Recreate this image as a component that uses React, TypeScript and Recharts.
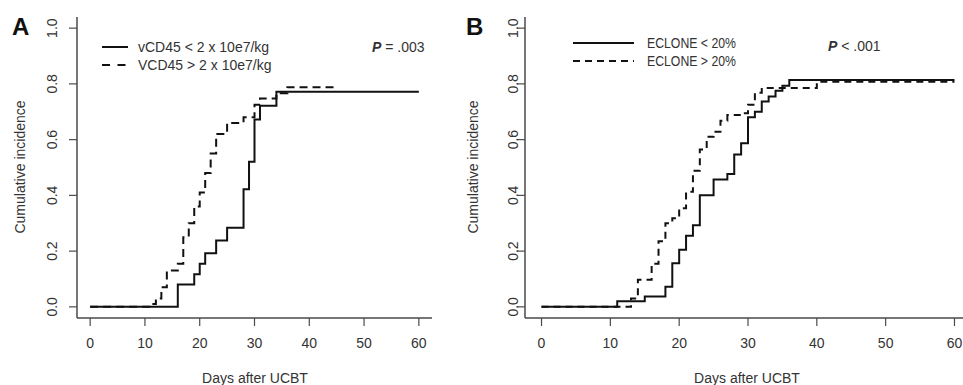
import React from "react";
import { LineChart, Line, XAxis, YAxis } from "recharts";

// Panel A: vCD45 dose groups
const aLowDays = [0, 16, 19, 20, 21, 23, 25, 28, 29, 30, 31, 34, 60];
const aLowInc = [0, 0.08, 0.117, 0.155, 0.192, 0.238, 0.284, 0.422, 0.521, 0.672, 0.722, 0.772, 0.772];
const aHighDays = [0, 11, 12, 13, 14, 16, 17, 18, 19, 20, 21, 22, 23, 25, 28, 30, 31, 34, 36, 45];
const aHighInc = [0, 0.01, 0.03, 0.07, 0.13, 0.155, 0.25, 0.3, 0.36, 0.41, 0.48, 0.55, 0.62, 0.66, 0.68, 0.725, 0.748, 0.766, 0.788, 0.788];

// Panel B: ECLONE groups
const bLowDays = [0, 11, 15, 18, 19, 20, 21, 22, 23, 25, 27, 28, 29, 30, 31, 32, 33, 34, 35, 36, 60];
const bLowInc = [0, 0.02, 0.037, 0.072, 0.156, 0.205, 0.255, 0.293, 0.4, 0.457, 0.477, 0.547, 0.587, 0.68, 0.7, 0.737, 0.755, 0.775, 0.793, 0.814, 0.814];
const bHighDays = [0, 13, 14, 16, 17, 18, 19, 20, 21, 22, 23, 24, 25, 26, 27, 29, 30, 31, 32, 40, 60];
const bHighInc = [0, 0.03, 0.097, 0.155, 0.235, 0.3, 0.318, 0.354, 0.413, 0.488, 0.565, 0.61, 0.628, 0.668, 0.688, 0.695, 0.725, 0.768, 0.785, 0.808, 0.808];

const xTicks = [0, 10, 20, 30, 40, 50, 60];
const yTicks = [0, 0.2, 0.4, 0.6, 0.8, 1.0];

const legendA = ["vCD45 < 2 x 10e7/kg", "VCD45 > 2 x 10e7/kg"];
const legendB = ["ECLONE < 20%", "ECLONE > 20%"];

const zip = (days: number[], inc: number[]) => days.map((d, i) => ({ d, v: inc[i] }));

const FONT = "'Liberation Sans', Arial, sans-serif";
const AXIS = "#4a4a4a";
const TXT = "#333";

function Panel({ left, width, rightMargin, labelX, low, high, dash }: any) {
  const YTick = (p: any) => (
    <text
      x={labelX}
      y={p.y}
      textAnchor="middle"
      transform={`rotate(-90, ${labelX}, ${p.y})`}
      fontSize={14}
      fontFamily={FONT}
      fill={TXT}
    >
      {Number(p.payload.value).toFixed(1)}
    </text>
  );
  const XTick = (p: any) => (
    <text x={p.x} y={348} textAnchor="middle" fontSize={14} fontFamily={FONT} fill={TXT}>
      {p.payload.value}
    </text>
  );
  return (
    <div style={{ position: "absolute", left, top: 0 }}>
      <LineChart width={width} height={385} margin={{ top: 17, right: rightMargin, bottom: 0, left: 0 }}>
        <XAxis
          type="number"
          dataKey="d"
          domain={[-2.4, 62.4]}
          ticks={xTicks}
          height={67}
          tickSize={8}
          allowDataOverflow
          axisLine={{ stroke: AXIS, strokeWidth: 1.5 }}
          tickLine={{ stroke: AXIS, strokeWidth: 1.2 }}
          tick={XTick}
          interval={0}
        />
        <YAxis
          type="number"
          dataKey="v"
          domain={[-0.04, 1.04]}
          ticks={yTicks}
          width={77}
          tickSize={8}
          allowDataOverflow
          axisLine={{ stroke: AXIS, strokeWidth: 1.5 }}
          tickLine={{ stroke: AXIS, strokeWidth: 1.2 }}
          tick={YTick}
          interval={0}
        />
        <Line data={high} dataKey="v" type="stepAfter" stroke="#111" strokeWidth={2} strokeDasharray={dash} dot={false} isAnimationActive={false} />
        <Line data={low} dataKey="v" type="stepAfter" stroke="#111" strokeWidth={2} dot={false} isAnimationActive={false} />
      </LineChart>
    </div>
  );
}

export default function App() {
  return (
    <div style={{ position: "absolute", left: 0, top: 0, width: 963, height: 385, overflow: "hidden", background: "#fff" }}>
      <Panel left={0} width={480} rightMargin={48} labelX={57} low={zip(aLowDays, aLowInc)} high={zip(aHighDays, aHighInc)} dash="8 5" />
      <Panel left={448} width={530} rightMargin={7} labelX={70} low={zip(bLowDays, bLowInc)} high={zip(bHighDays, bHighInc)} dash="7 5" />
      <svg width={963} height={385} style={{ position: "absolute", left: 0, top: 0, pointerEvents: "none" }} fontFamily={FONT}>
        <text x={12} y={35} fontSize={24} fontWeight="bold" fill="#111">A</text>
        <text x={466} y={35} fontSize={24} fontWeight="bold" fill="#111">B</text>

        <text x={25} y={167} fontSize={14} fill={TXT} textAnchor="middle" transform="rotate(-90, 25, 167)">Cumulative incidence</text>
        <text x={478} y={167} fontSize={14} fill={TXT} textAnchor="middle" transform="rotate(-90, 478, 167)">Cumulative incidence</text>
        <text x={255} y={383} fontSize={14} fill={TXT} textAnchor="middle">Days after UCBT</text>
        <text x={747} y={383} fontSize={14} fill={TXT} textAnchor="middle">Days after UCBT</text>

        <line x1={102} y1={47} x2={128} y2={47} stroke="#111" strokeWidth={2} />
        <line x1={102} y1={65} x2={128} y2={65} stroke="#111" strokeWidth={2} strokeDasharray="8 7.5" />
        <text x={138} y={52} fontSize={14} fill={TXT}>{legendA[0]}</text>
        <text x={138} y={70} fontSize={14} fill={TXT}>{legendA[1]}</text>
        <text x={372} y={52} fontSize={14} fill={TXT}>
          <tspan fontWeight="bold" fontStyle="italic">P</tspan> = .003
        </text>

        <line x1={573} y1={43} x2={634} y2={43} stroke="#111" strokeWidth={2} />
        <line x1={573} y1={61} x2={634} y2={61} stroke="#111" strokeWidth={2} strokeDasharray="7 5" />
        <text x={647} y={48} fontSize={14} fill={TXT} textLength={89} lengthAdjust="spacingAndGlyphs">{legendB[0]}</text>
        <text x={647} y={66} fontSize={14} fill={TXT} textLength={89} lengthAdjust="spacingAndGlyphs">{legendB[1]}</text>
        <text x={828} y={51} fontSize={14} fill={TXT}>
          <tspan fontWeight="bold" fontStyle="italic">P</tspan> &lt; .001
        </text>
      </svg>
    </div>
  );
}
